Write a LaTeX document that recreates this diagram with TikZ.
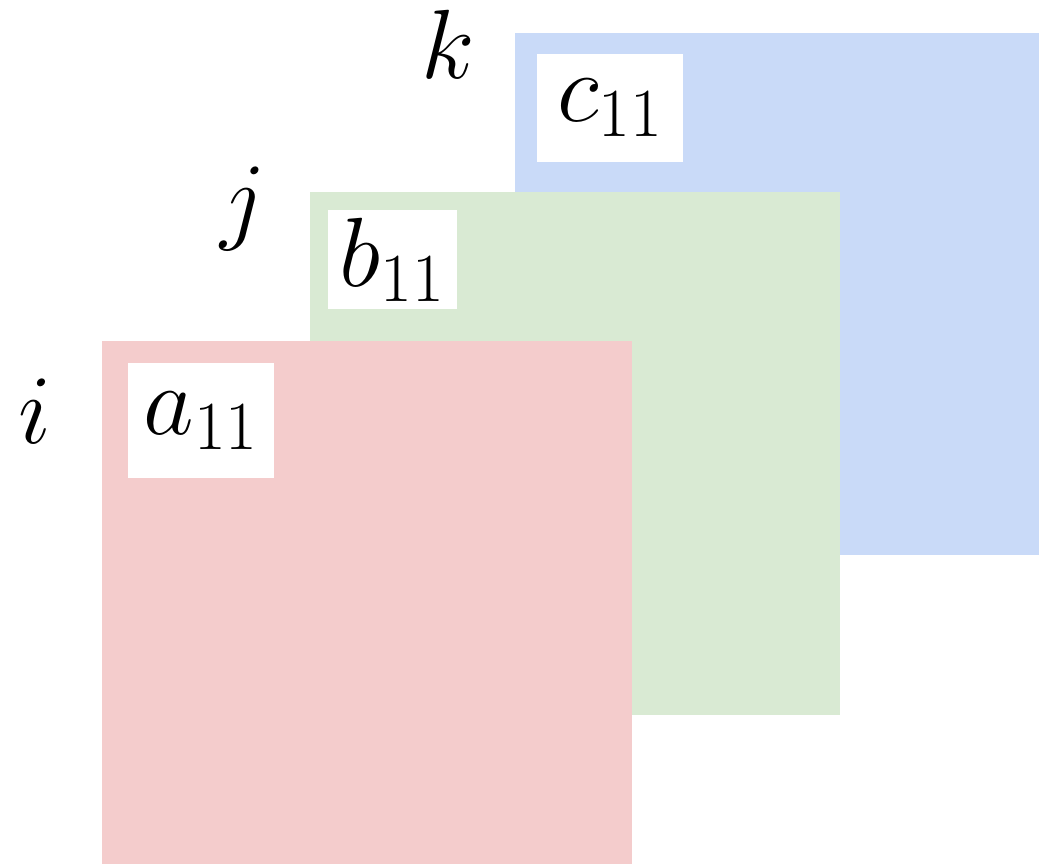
\documentclass[tikz,border=0pt]{standalone}
\usepackage{fix-cm}
\usepackage{amsmath}
\usepackage{tikz}
\usepackage{xcolor}

\definecolor{layerc}{HTML}{C9DAF8}
\definecolor{layerb}{HTML}{D9EAD3}
\definecolor{layera}{HTML}{F4CCCC}

\begin{document}
\begin{tikzpicture}[x=0.02cm, y=-0.02cm,
  cell/.style={rectangle, fill=white, inner sep=0pt, font=\fontsize{56}{60}\selectfont},
  axis/.style={inner sep=0pt, font=\fontsize{56}{60}\selectfont}]
\useasboundingbox (0,0) rectangle (1039,864);
% the three layers, back to front
\fill[layerc] (515,33) rectangle (1039,555);
\fill[layerb] (310,192) rectangle (840,715);
\fill[layera] (102,341) rectangle (632,864);
% first entry of each layer
\node[cell, minimum width=2.92cm, minimum height=2.16cm] (c11) at (610,108) {$c_{11}$};
\node[cell, minimum width=2.58cm, minimum height=1.98cm] (b11) at (392.5,259.5) {$b_{11}$};
\node[cell, minimum width=2.92cm, minimum height=2.30cm] (a11) at (201,420.5) {$a_{11}$};
% index labels
\node[axis] (k) at (448,44) {$k$};
\node[axis] (j) at (243,209) {$j$};
\node[axis] (i) at (35,411) {$i$};
\end{tikzpicture}
\end{document}
